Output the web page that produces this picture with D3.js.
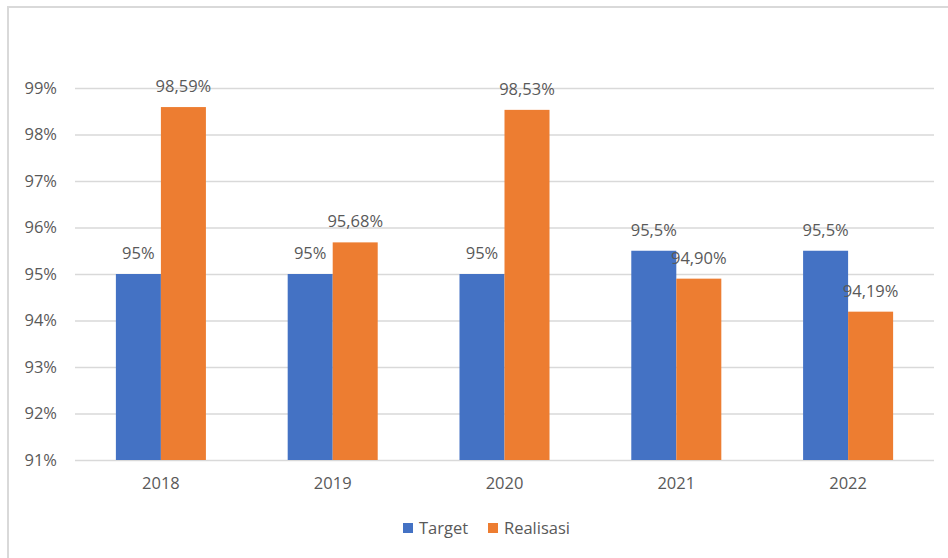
<!DOCTYPE html>
<html>
<head>
<meta charset="utf-8">
<script src="https://cdn.jsdelivr.net/npm/d3@7"></script>
<style>
  html, body { margin: 0; padding: 0; background: #fff; }
  svg { display: block; }
  text { font-family: "Open Sans", "Noto Sans", sans-serif; fill: #595959; }
</style>
</head>
<body>
<svg id="chart" width="948" height="558"></svg>
<script>
const categories = ["2018", "2019", "2020", "2021", "2022"];
const seriesNames = ["Target", "Realisasi"];
const targetValues = [95, 95, 95, 95.5, 95.5];
const realisasiValues = [98.59, 95.68, 98.53, 94.90, 94.19];
const targetLabels = ["95%", "95%", "95%", "95,5%", "95,5%"];
const realisasiLabels = ["98,59%", "95,68%", "98,53%", "94,90%", "94,19%"];
const yTicks = [91, 92, 93, 94, 95, 96, 97, 98, 99];
const colors = ["#4472C4", "#ED7D31"];

const svg = d3.select("#chart");
const W = 948, H = 558;
const FS = "16.5px";

// outer chart border (top and left visible)
svg.append("line").attr("x1", 8).attr("x2", W).attr("y1", 7).attr("y2", 7)
  .attr("stroke", "#D9D9D9").attr("stroke-width", 2);
svg.append("line").attr("x1", 8).attr("x2", 8).attr("y1", 6).attr("y2", H)
  .attr("stroke", "#D9D9D9").attr("stroke-width", 2);

const plot = { left: 75, right: 934, top: 88, bottom: 460 };

const x0 = d3.scaleBand().domain(categories).range([plot.left, plot.right]).paddingInner(0.476).paddingOuter(0.238);
const x1 = d3.scaleBand().domain(seriesNames).range([0, x0.bandwidth()]).padding(0);
const y = d3.scaleLinear().domain([91, 99]).range([plot.bottom, plot.top]);

// gridlines
const yAxis = d3.axisLeft(y).tickValues(yTicks).tickFormat(d => d + "%").tickSize(-(plot.right - plot.left)).tickPadding(18);
const gy = svg.append("g").attr("transform", `translate(${plot.left},0)`).call(yAxis);
gy.select(".domain").remove();
gy.selectAll(".tick line").attr("stroke", "#D9D9D9").attr("stroke-width", 1.5);
gy.selectAll(".tick text").style("font-size", FS).style("fill", "#595959")
  .style("font-family", "\"Open Sans\", sans-serif");

// x axis
const xAxis = d3.axisBottom(x0).tickSize(0).tickPadding(17);
const gx = svg.append("g").attr("transform", `translate(0,${plot.bottom})`).call(xAxis);
gx.select(".domain").remove();
gx.selectAll(".tick text").style("font-size", FS).style("fill", "#595959")
  .style("font-family", "\"Open Sans\", sans-serif");

const rows = categories.map((c, i) => ({
  cat: c,
  vals: [
    { s: "Target", v: targetValues[i], label: targetLabels[i] },
    { s: "Realisasi", v: realisasiValues[i], label: realisasiLabels[i] }
  ]
}));

const groups = svg.append("g").selectAll("g").data(rows).join("g")
  .attr("transform", d => `translate(${x0(d.cat)},0)`);

groups.selectAll("rect").data(d => d.vals).join("rect")
  .attr("x", d => x1(d.s))
  .attr("y", d => y(d.v))
  .attr("width", x1.bandwidth())
  .attr("height", d => y(91) - y(d.v))
  .attr("fill", (d, i) => colors[i]);

groups.selectAll("text.lbl").data(d => d.vals).join("text")
  .attr("class", "lbl")
  .attr("x", d => x1(d.s) + x1.bandwidth() / 2)
  .attr("y", d => y(d.v) - 15)
  .attr("text-anchor", "middle")
  .style("font-size", FS)
  .text(d => d.label);

// legend
const legend = svg.append("g");
const legendItems = [
  { name: "Target", x: 403, color: colors[0] },
  { name: "Realisasi", x: 488, color: colors[1] }
];
legendItems.forEach(it => {
  legend.append("rect").attr("x", it.x).attr("y", 523).attr("width", 10).attr("height", 10).attr("fill", it.color);
  legend.append("text").attr("x", it.x + 16).attr("y", 534).style("font-size", FS).text(it.name);
});
</script>
</body>
</html>
